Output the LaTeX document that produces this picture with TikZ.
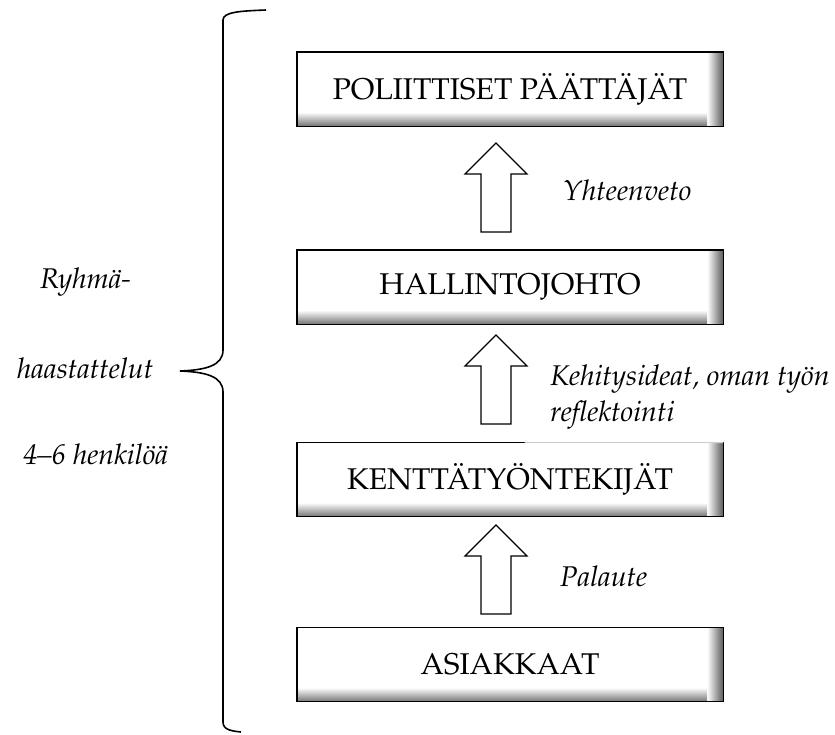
\documentclass[tikz,border=0pt]{standalone}
\usepackage[T1]{fontenc}
\usepackage{mathpazo}
\usetikzlibrary{calc}

\tikzset{
  level/.style={fill=white, minimum width=426pt, minimum height=74pt, inner sep=0pt,
    font=\fontsize{30}{34}\selectfont},
  note/.style={anchor=west, inner sep=0pt, font=\itshape\fontsize{28.5}{32}\selectfont},
  uparr/.pic={\draw[line width=1.1pt, fill=white, line join=miter]
    (-15,0) -- (-15,-58) -- (-31,-58) -- (0,-89) -- (31,-58) -- (15,-58) -- (15,0) -- cycle;}
}

% shaded edge of a level box
\newcommand{\boxshade}[1]{%
  \shade[left color=white, right color=black!65] ($(#1.north east)+(-16,0)$) rectangle (#1.south east);
  \shade[top color=white, bottom color=black!55] ($(#1.south west)+(0,-14)$) rectangle ($(#1.south east)+(-16,0)$);
  \draw[line width=1.4pt] (#1.north west) rectangle (#1.south east);
}

\begin{document}
\begin{tikzpicture}[x=1pt, y=-1pt]
  \useasboundingbox (0,0) rectangle (835,734);

  % levels
  \node[level] (pol) at (510,89) {POLIITTISET PÄÄTTÄJÄT};
  \node[level] (hal) at (510,287) {HALLINTOJOHTO};
  \node[level] (ken) at (510,479.5) {KENTTÄTYÖNTEKIJÄT};
  \node[level] (asi) at (510,664.5) {ASIAKKAAT};
  \boxshade{pol}
  \boxshade{hal}
  \boxshade{ken}
  \boxshade{asi}
  \draw[white, line width=1.6pt] ($(ken.north west)!0.535!(ken.north east)$) -- (ken.north east);
  \draw[black!30, line width=0.6pt] ($(ken.north west)!0.535!(ken.north east)$) -- (ken.north east);

  % arrows
  \pic at (496,232) {uparr};
  \pic at (496,424) {uparr};
  \pic at (496,614) {uparr};

  \node[note] (yht) at (563,190) {Yhteenveto};
  \node[note] (keh) at (550,379) {Kehitysideat, oman työn};
  \node[note] (ref) at (550,415) {reflektointi};
  \node[note] (pal) at (560,576) {Palaute};

  % brace
  \draw[line width=1.6pt] (266,10) .. controls (240,11) and (223,12) .. (223,20) -- (223,350)
    .. controls (223,366) and (205,370) .. (180,371)
    .. controls (205,372) and (223,376) .. (223,392) -- (223,722)
    .. controls (223,730) and (232,731) .. (241,732);
  \node[note] (ryh) at (40,282) {Ryhmä-};
  \node[note] (haa) at (17,368) {haastattelut};
  \node[note] (hen) at (23,454) {4--6 henkilöä};
\end{tikzpicture}
\end{document}
